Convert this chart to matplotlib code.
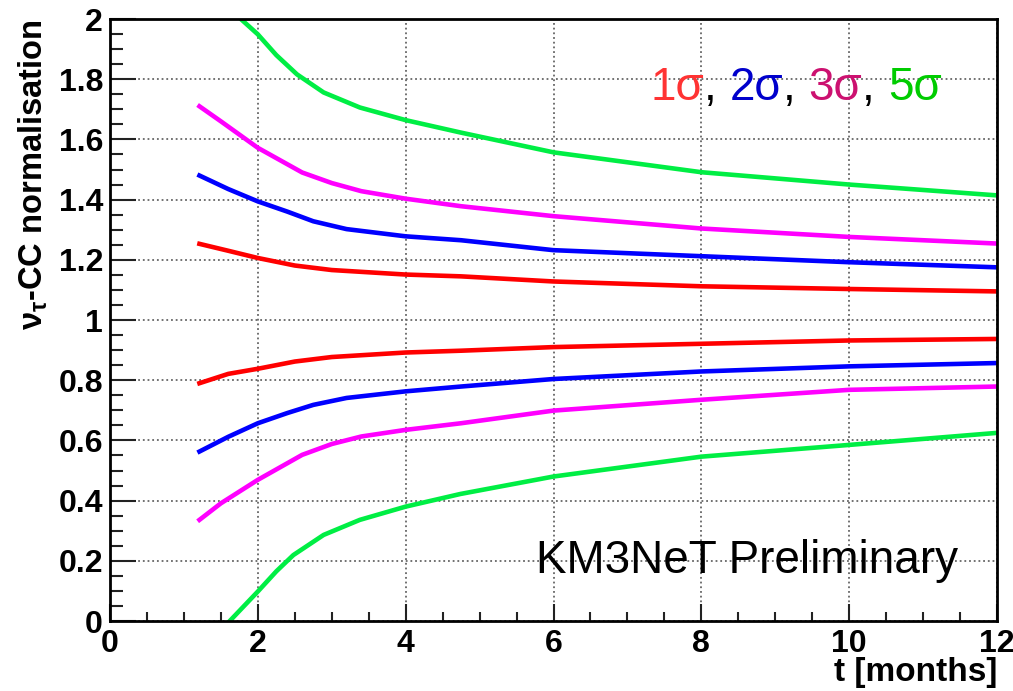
import matplotlib
matplotlib.use("Agg")
import matplotlib.pyplot as plt
from matplotlib.ticker import MultipleLocator
from matplotlib import transforms

plt.rcParams['font.family'] = ['Liberation Sans', 'DejaVu Sans']
plt.rcParams['mathtext.fontset'] = 'custom'
plt.rcParams['mathtext.rm'] = 'Liberation Sans:bold'

# curves (t in months)
t_red = [1.21, 1.6, 2.0, 2.5, 3.0, 4.0, 4.75, 6.0, 8.0, 10.0, 12.0]
red_up = [1.253, 1.230, 1.206, 1.181, 1.166, 1.151, 1.145, 1.128, 1.112, 1.103, 1.095]
red_lo = [0.790, 0.821, 0.838, 0.862, 0.877, 0.892, 0.898, 0.910, 0.921, 0.932, 0.937]

t_blue = [1.21, 1.6, 2.0, 2.4, 2.75, 3.2, 4.0, 4.75, 6.0, 8.0, 10.0, 12.0]
blue_up = [1.480, 1.435, 1.394, 1.360, 1.328, 1.302, 1.278, 1.265, 1.232, 1.212, 1.192, 1.175]
blue_lo = [0.563, 0.612, 0.657, 0.691, 0.718, 0.741, 0.763, 0.779, 0.804, 0.829, 0.846, 0.857]

t_mag = [1.21, 1.5, 2.0, 2.6, 3.0, 3.4, 4.0, 4.75, 6.0, 8.0, 10.0, 12.0]
mag_up = [1.710, 1.660, 1.572, 1.490, 1.455, 1.428, 1.403, 1.378, 1.345, 1.304, 1.276, 1.254]
mag_lo = [0.336, 0.391, 0.469, 0.552, 0.588, 0.613, 0.635, 0.657, 0.699, 0.735, 0.768, 0.779]

t_green_up = [1.77, 2.0, 2.25, 2.53, 2.89, 3.38, 4.0, 4.74, 6.0, 8.0, 10.0, 12.0]
green_up = [2.0, 1.949, 1.880, 1.816, 1.756, 1.706, 1.664, 1.623, 1.557, 1.491, 1.450, 1.414]
t_green_lo = [1.62, 2.0, 2.25, 2.48, 2.89, 3.38, 4.0, 4.74, 6.0, 8.0, 10.0, 12.0]
green_lo = [0.0, 0.098, 0.165, 0.219, 0.286, 0.336, 0.380, 0.422, 0.480, 0.546, 0.585, 0.625]

sigma_labels = ['1σ', ', ', '2σ', ', ', '3σ', ', ', '5σ']
sigma_colors = ['#ff3333', 'black', '#0000cc', 'black', '#cc1170', 'black', '#00cc00']

fig = plt.figure(figsize=(10.13, 6.91), dpi=100)
ax = fig.add_axes([0.1086, 0.1013, 0.8756, 0.8712])

lw = 3.3
ax.plot(t_green_up, green_up, color='#00ee44', lw=lw)
ax.plot(t_green_lo, green_lo, color='#00ee44', lw=lw)
ax.plot(t_mag, mag_up, color='#ff00ff', lw=lw)
ax.plot(t_mag, mag_lo, color='#ff00ff', lw=lw)
ax.plot(t_blue, blue_up, color='#0000ff', lw=lw)
ax.plot(t_blue, blue_lo, color='#0000ff', lw=lw)
ax.plot(t_red, red_up, color='#ff0000', lw=lw)
ax.plot(t_red, red_lo, color='#ff0000', lw=lw)

ax.set_xlim(0, 12)
ax.set_ylim(0, 2)
ax.xaxis.set_major_locator(MultipleLocator(2))
ax.xaxis.set_minor_locator(MultipleLocator(0.5))
ax.yaxis.set_major_locator(MultipleLocator(0.2))
ax.yaxis.set_minor_locator(MultipleLocator(0.05))
ax.yaxis.set_major_formatter(matplotlib.ticker.FuncFormatter(lambda v, p: '%g' % round(v, 2)))

ax.grid(True, which='major', color='0.4', linestyle=(0, (1, 1.6)), lw=1.3)

for s in ax.spines.values():
    s.set_linewidth(2)
    s.set_color('black')

ax.tick_params(axis='both', which='both', direction='in', top=False, right=False,
               width=1.5, color='#222222', labelsize=23)
ax.tick_params(axis='y', which='major', length=18.5, pad=5)
ax.tick_params(axis='y', which='minor', length=9.3)
ax.tick_params(axis='x', which='major', length=12.5, pad=6)
ax.tick_params(axis='x', which='minor', length=6.5)
for lab in ax.get_xticklabels() + ax.get_yticklabels():
    lab.set_fontweight('bold')

ax.set_ylabel(r'$\mathrm{\nu_{\tau}}$-CC normalisation', fontsize=23.5,
              fontweight='bold', loc='top', labelpad=6)
ax.set_xlabel('t [months]', fontsize=24, fontweight='bold', loc='right', labelpad=-2)

ax.text(11.475, 0.16, 'KM3NeT Preliminary', fontsize=33, ha='right', va='baseline')

# coloured sigma legend, pieces placed one after another
fig.canvas.draw()
renderer = fig.canvas.get_renderer()
tr = ax.transData
x0, y0 = 7.31, 1.73
for txt, col in zip(sigma_labels, sigma_colors):
    t = ax.text(x0, y0, txt, color=col, fontsize=33, transform=tr, va='baseline')
    t.draw(renderer)
    ex = t.get_window_extent(renderer)
    tr = transforms.offset_copy(t.get_transform(), x=ex.width, units='dots')

fig.savefig('out.png', dpi=100)
